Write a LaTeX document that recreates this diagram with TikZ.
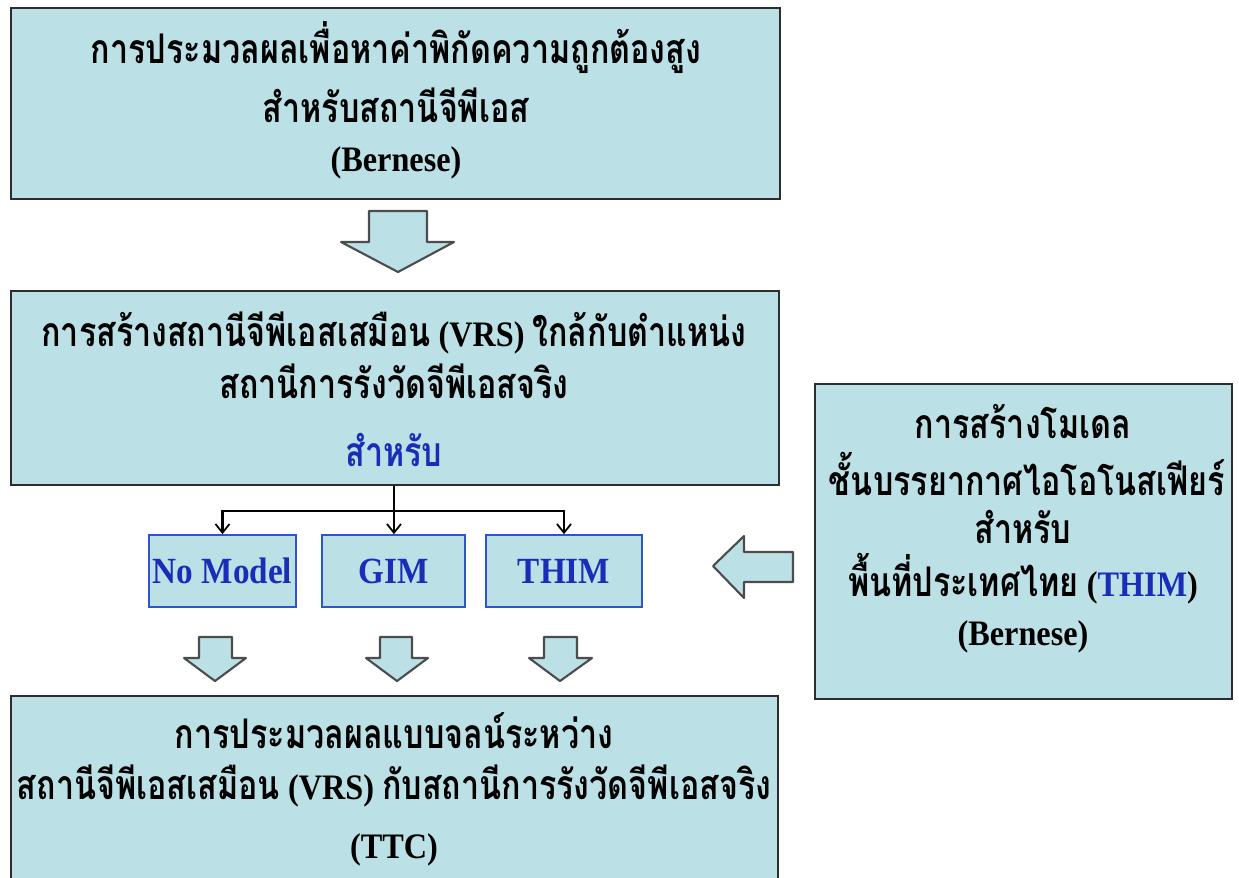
\documentclass[tikz,border=0pt]{standalone}
\usepackage{fontspec}
\setmainfont{Liberation Serif}[FakeStretch=0.9]
\newfontfamily\thai[Script=Thai, Scale=1.14, FakeStretch=0.79]{Loma}
\usetikzlibrary{arrows.meta}
\definecolor{boxfill}{RGB}{187,224,229}
\definecolor{boxline}{RGB}{45,45,45}
\definecolor{blueline}{RGB}{45,85,205}
\definecolor{bluetext}{RGB}{25,45,185}
\begin{document}
\begin{tikzpicture}[x=0.02cm,y=-0.02cm,
  box/.style={draw=boxline, fill=boxfill, line width=1.3pt, inner sep=0pt},
  sbox/.style={draw=blueline, fill=boxfill, line width=1pt, inner sep=0pt, minimum height=1.44cm,
     font=\bfseries\fontsize{21}{24}\selectfont, text=bluetext},
  txt/.style={font=\bfseries\fontsize{20.4}{24}\selectfont, text=black, inner sep=0pt, anchor=center},
  barrow/.style={draw=boxline!85, fill=boxfill, line width=1.2pt, line join=round},
  conn/.style={draw=black, line width=1.2pt},
  tip/.style={-{Straight Barb[length=5pt,width=8pt,line width=1pt]}}]
\useasboundingbox (0,0) rectangle (1239,877);
% boxes
\node[box, minimum width=15.38cm, minimum height=3.82cm] (b1) at (395.5,103.5) {};
\node[box, minimum width=15.36cm, minimum height=3.88cm] (b2) at (395,388) {};
\node[box, minimum width=8.34cm, minimum height=6.30cm] (b3) at (1023.5,541.5) {};
\node[box, minimum width=15.34cm, minimum height=4.08cm] (b4) at (394.5,798) {};
% texts box 1
\node[txt] (t11) at (396,48) {\thai การประมวลผลเพื่อหาค่าพิกัดความถูกต้องสูง};
\node[txt] (t12) at (396,105) {\thai สำหรับสถานีจีพีเอส};
\node[txt] (t13) at (396,163) {(Bernese)};
% texts box 2
\node[txt] (t21) at (394,333) {{\thai การสร้างสถานีจีพีเอสเสมือน} (VRS) {\thai ใกล้กับตำแหน่ง}};
\node[txt] (t22) at (394,381) {\thai สถานีการรังวัดจีพีเอสจริง};
\node[txt, text=bluetext] (t23) at (394,450) {\thai สำหรับ};
% texts box 3
\node[txt] (t31) at (1023,422) {\thai การสร้างโมเดล};
\node[txt] (t32) at (1027,474) {\thai ชั้นบรรยากาศไอโอโนสเฟียร์};
\node[txt] (t33) at (1023,527) {\thai สำหรับ};
\node[txt] (t34) at (1023,579) {{\thai พื้นที่ประเทศไทย} (\textcolor{bluetext}{THIM})};
\node[txt] (t35) at (1023,637) {(Bernese)};
% texts box 4
\node[txt] (t41) at (394,731) {\thai การประมวลผลแบบจลน์ระหว่าง};
\node[txt] (t42) at (394,786) {{\thai สถานีจีพีเอสเสมือน} (VRS) {\thai กับสถานีการรังวัดจีพีเอสจริง}};
\node[txt] (t43) at (394,850) {(TTC)};
% small boxes
\node[sbox, minimum width=2.94cm] (nm) at (222.5,571) {No Model};
\node[sbox, minimum width=2.86cm] (gim) at (393.5,571) {GIM};
\node[sbox, minimum width=3.12cm] (thim) at (564,571) {THIM};
% connectors
\coordinate (j) at (394,511);
\draw[conn] (b2.south -| j) -- (j);
\draw[conn, tip] (j) -| (nm.north);
\draw[conn, tip] (j) -- (gim.north -| j);
\draw[conn, tip] (j) -| (thim.north);
% block arrows
\draw[barrow] (369,211) -- (427,211) -- (427,242) -- (454,242) -- (398,272) -- (341,242) -- (369,242) -- cycle;
\draw[barrow] (199,637) -- (232,637) -- (232,658) -- (246,658) -- (215,681) -- (184,658) -- (199,658) -- cycle;
\draw[barrow] (380,637) -- (412,637) -- (412,658) -- (428,658) -- (397,681) -- (366,658) -- (380,658) -- cycle;
\draw[barrow] (544,637) -- (577,637) -- (577,658) -- (592,658) -- (560,681) -- (529,658) -- (544,658) -- cycle;
\draw[barrow] (793,552) -- (793,582) -- (744,582) -- (744,598) -- (713,566) -- (744,536) -- (744,552) -- cycle;
\end{tikzpicture}
\end{document}
